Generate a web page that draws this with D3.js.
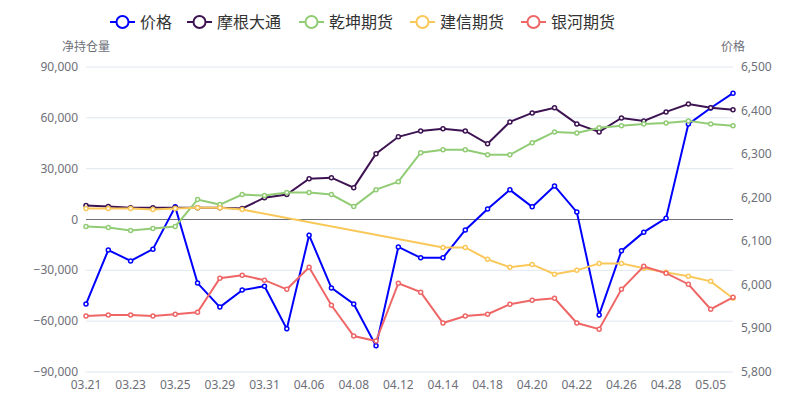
<!DOCTYPE html><html><head><meta charset="utf-8"><script src="https://cdn.jsdelivr.net/npm/d3@7"></script>
<style>body{margin:0}text{font-family:"Noto Sans","Noto Sans CJK SC",sans-serif}</style></head><body><svg id="c" width="800" height="400"></svg><script>
const categories=["03.21","03.22","03.23","03.24","03.25","03.28","03.29","03.30","03.31","04.01","04.06","04.07","04.08","04.11","04.12","04.13","04.14","04.15","04.18","04.19","04.20","04.21","04.22","04.25","04.26","04.27","04.28","04.29","05.05","05.06"];
const price=[5956,6080,6055,6082,6179,6004,5949,5988,5997,5899,6114,5993,5956,5860,6087,6062,6062,6126,6174,6218,6179,6227,6167,5931,6078,6121,6153,6369,6406,6440];
const morgan=[8200,7600,7000,7000,7000,7000,7000,6500,12900,14700,24100,24700,18800,38800,48800,52300,53500,52300,44700,57600,62900,65900,56400,51700,59900,58200,63500,68200,65900,64700];
const qiankun=[-4100,-4700,-6500,-5300,-4100,11800,8800,14700,14100,15900,15900,14700,7600,17600,22300,39400,41200,41200,38200,38200,45300,51700,51100,54100,55300,56400,57000,58200,56400,55300];
const jianxin=[6500,6500,6500,5900,6500,7000,7000,5900,null,null,null,null,null,null,null,null,-16500,-16500,-23500,-28200,-26500,-32300,-30000,-25900,-25900,-28800,-31200,-33500,-36500,-46500];
const yinhe=[-57000,-56400,-56400,-57000,-55900,-54700,-34700,-32900,-35800,-41200,-28200,-50600,-68800,-71700,-37600,-42900,-61100,-57000,-55900,-50000,-47600,-46500,-61100,-64700,-41200,-27600,-31700,-38200,-52900,-45900];
const leftTicks=[-90000,-60000,-30000,0,30000,60000,90000];
const rightTicks=[5800,5900,6000,6100,6200,6300,6400,6500];
const series=[{name:"价格",data:price,color:"#0000ff",right:true},{name:"摩根大通",data:morgan,color:"#3d1352"},{name:"乾坤期货",data:qiankun,color:"#91cc75"},{name:"建信期货",data:jianxin,color:"#fac858"},{name:"银河期货",data:yinhe,color:"#ee6666"}];
const svg=d3.select("#c");
const L=86,R=733,T=67,B=372;
const x=d3.scalePoint().domain(categories).range([L,R]);
const yl=d3.scaleLinear().domain([-90000,90000]).range([B,T]);
const yr=d3.scaleLinear().domain([5800,6500]).range([B,T]);
const fmt=d3.format(",");
svg.append("g").selectAll("line").data(leftTicks).join("line").attr("x1",L).attr("x2",R).attr("y1",d=>yl(d)).attr("y2",d=>yl(d)).attr("stroke","#e0e6f1");
svg.append("line").attr("x1",L).attr("x2",R).attr("y1",yl(0)).attr("y2",yl(0)).attr("stroke","#6e7079");
svg.append("g").selectAll("text").data(leftTicks).join("text").attr("x",L-8).attr("y",d=>yl(d)+4).attr("text-anchor","end").attr("font-size",12).attr("fill","#6e7079").text(fmt);
svg.append("g").selectAll("text").data(rightTicks).join("text").attr("x",R+8).attr("y",d=>yr(d)+4).attr("font-size",12).attr("fill","#6e7079").text(fmt);
svg.append("g").selectAll("text").data(categories.filter((d,i)=>i%2==0)).join("text").attr("x",d=>x(d)).attr("y",389).attr("text-anchor","middle").attr("font-size",12).attr("fill","#6e7079").text(d=>d);
svg.append("text").attr("x",L).attr("y",51).attr("text-anchor","middle").attr("font-size",12).attr("fill","#6e7079").text("净持仓量");
svg.append("text").attr("x",R).attr("y",51).attr("text-anchor","middle").attr("font-size",12).attr("fill","#6e7079").text("价格");
series.forEach(s=>{const y=s.right?yr:yl;
 const pts=s.data.map((v,i)=>[categories[i],v]).filter(p=>p[1]!=null);
 svg.append("path").attr("d",d3.line().x(p=>x(p[0])).y(p=>y(p[1]))(pts)).attr("fill","none").attr("stroke",s.color).attr("stroke-width",2);
 svg.append("g").selectAll("circle").data(pts).join("circle").attr("cx",p=>x(p[0])).attr("cy",p=>y(p[1])).attr("r",2).attr("fill","#fff").attr("stroke",s.color).attr("stroke-width",1.5);
});
const lx=[110,187,299,410,521];
series.forEach((s,i)=>{const g=svg.append("g").attr("transform",`translate(${lx[i]},22)`);
 g.append("line").attr("x1",0).attr("x2",25).attr("stroke",s.color).attr("stroke-width",2);
 g.append("circle").attr("cx",12.5).attr("r",6).attr("fill","#fff").attr("stroke",s.color).attr("stroke-width",2);
 g.append("text").attr("x",30).attr("y",6).attr("font-size",16).attr("fill","#333").text(s.name);});
</script></body></html>
